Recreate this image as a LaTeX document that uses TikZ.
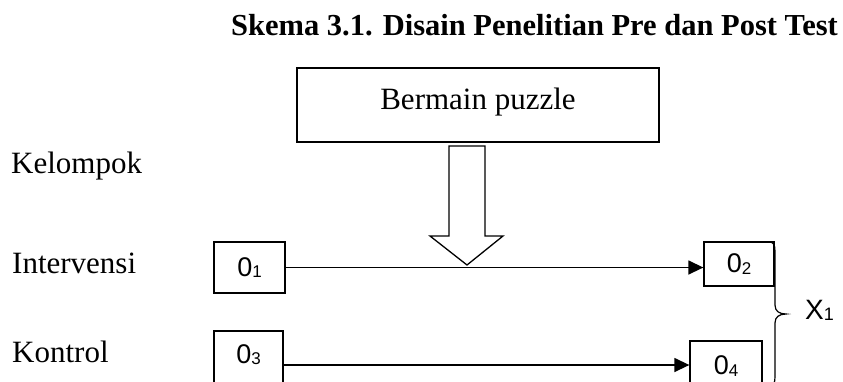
\documentclass[tikz,border=0pt]{standalone}
\usepackage{fontspec}
\setmainfont{Liberation Serif}
\newfontfamily\arialfont{Liberation Sans}
\usetikzlibrary{arrows.meta}
\newcommand\osub[2]{#1\raisebox{-1.5pt}{\fontsize{17}{17}\selectfont #2}}
\begin{document}
\begin{tikzpicture}[x=1pt,y=-1pt,
  lbl/.style={font=\fontsize{31}{31}\selectfont, anchor=base west, inner sep=0pt},
  obox/.style={draw, line width=1.3pt, inner sep=0pt, font=\arialfont\fontsize{27}{27}\selectfont, text height=17pt, text depth=0pt},
  conn/.style={line width=1.4pt, -{Triangle[length=15pt,width=14pt]}},
  shape line/.style={line width=1.3pt}]
\useasboundingbox[fill=white] (0,0) rectangle (843,381);
\node[font=\bfseries\fontsize{30.5}{30.5}\selectfont, anchor=base east, inner sep=0pt] (title) at (838,35) {Skema 3.1. Disain Penelitian Pre dan Post Test};
\node[draw, shape line, minimum width=362pt, minimum height=74pt, inner sep=0pt] (puzzle) at (478,105) {};
\node[font=\fontsize{31}{31}\selectfont, anchor=base, inner sep=0pt] (ptext) at (478,109) {Bermain puzzle};
\draw[shape line, fill=white] (449,146) -- (485,146) -- (485,236) -- (503,236) -- (467,265) -- (430,236) -- (449,236) -- cycle;
\node[lbl] (kel) at (11,173) {Kelompok};
\node[lbl] (int) at (12,273) {Intervensi};
\node[lbl] (kon) at (12,362) {Kontrol};
\node[obox, minimum width=71pt, minimum height=51pt] (o1) at (249.5,267.5) {\osub{0}{1}};
\node[obox, minimum width=70pt, minimum height=44pt] (o2) at (739,264) {\osub{0}{2}};
\node[obox, minimum width=69pt, minimum height=54pt, text depth=7pt] (o3) at (248.5,358) {\osub{0}{3}};
\node[obox, minimum width=72pt, minimum height=50pt] (o4) at (726,366) {\osub{0}{4}};
\draw[conn] (o1.east) -- (o1.east -| o2.west);
\draw[conn] (o3.east |- 0,365) -- (o4.west |- 0,365);
\draw[line width=1.2pt] (769,242) .. controls (774,242) and (775,245) .. (775,252) -- (775,305) .. controls (775,311) and (779,314) .. (786,314) .. controls (779,314) and (775,317) .. (775,323) -- (775,376) .. controls (775,383) and (774,386) .. (769,386);
\node[font=\arialfont\fontsize{28}{28}\selectfont, anchor=base west, inner sep=0pt] (x1) at (805,319) {X\raisebox{-1.5pt}{\fontsize{18}{18}\selectfont 1}};
\end{tikzpicture}
\end{document}
